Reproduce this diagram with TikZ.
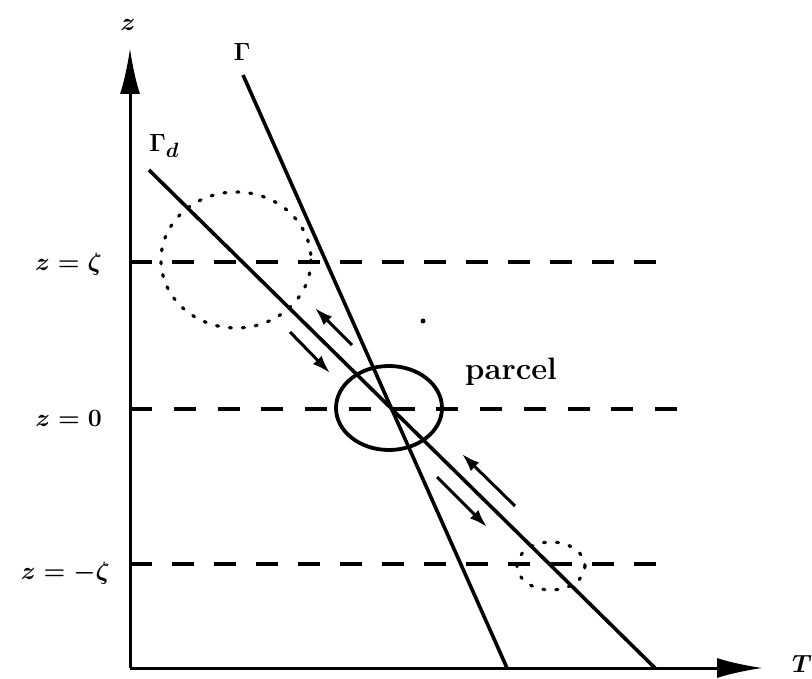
\documentclass[tikz,border=0pt]{standalone}
\usepackage{amsmath,amssymb}
\usepackage{tikz}
\usetikzlibrary{arrows.meta,positioning}

\begin{document}
\begin{tikzpicture}[
  x=1pt, y=-1pt,
  font=\fontsize{31}{36}\selectfont\boldmath,
  axis/.style={line width=3pt, -{Latex[length=46pt,width=20pt]}},
  gradient/.style={line width=3.6pt},
  level/.style={line width=3.4pt, dash pattern=on 22pt off 20pt},
  blob/.style={line width=3.2pt, line cap=round, dash pattern=on 2pt off 11pt},
  parcelbox/.style={line width=3.8pt},
  move/.style={line width=3pt, -{Latex[length=18pt,width=12pt]}},
  lbl/.style={inner sep=0pt}]
\useasboundingbox (0,0) rectangle (812,679);
% axes
\coordinate (O) at (130,668);
\coordinate (ztip) at (130,48);
\coordinate (Ttip) at (763,668);
\draw[axis] (O) -- (ztip);
\draw[axis] (O) -- (Ttip);
\node[lbl] (zlab) at (128,25) {$z$};
\node[lbl] (Tlab) at (802,664) {$T$};
% levels
\coordinate (zeta1) at (130,262); \coordinate (zeta2) at (658,262);
\coordinate (zero1) at (130,409); \coordinate (zero2) at (677,409);
\coordinate (mzeta1) at (130,564); \coordinate (mzeta2) at (658,564);
\draw[level] (zeta1) -- (zeta2);
\draw[level, dash pattern=on 22pt off 21.75pt] (zero1) -- (zero2);
\draw[level] (mzeta1) -- (mzeta2);
\node[lbl, anchor=east] (zetalab) at (102,264) {$z=\zeta$};
\node[lbl, anchor=east] (zerolab) at (102,418) {$z=0$};
\node[lbl, anchor=east] (mzetalab) at (110,573) {$z=-\zeta$};
% lapse-rate lines
\coordinate (G1) at (243,75); \coordinate (G2) at (507,668);
\coordinate (Gd1) at (149,170); \coordinate (Gd2) at (655,668);
\draw[gradient] (G1) -- (G2);
\draw[gradient] (Gd1) -- (Gd2);
\node[lbl] (Glab) at (242,52) {$\Gamma$};
\node[lbl] (Gdlab) at (164,146) {$\Gamma_d$};
% parcel and its displaced positions
\draw[parcelbox] (389,408) ellipse [x radius=53, y radius=42];
\draw[blob] (236,260) ellipse [x radius=75, y radius=68];
\draw[blob] (551,566) ellipse [x radius=34, y radius=24];
\node[lbl, anchor=west] (parcellab) at (465,372) {\bfseries parcel};
\fill (423,321) circle (2.5pt);
% motions
\coordinate (u1) at (352,345); \coordinate (u2) at (315,308);
\coordinate (d1) at (290,332); \coordinate (d2) at (330,373);
\coordinate (l1) at (515,506); \coordinate (l2) at (462,454);
\coordinate (r1) at (437,477); \coordinate (r2) at (487,527);
\draw[move] (u1) -- (u2);
\draw[move] (d1) -- (d2);
\draw[move] (l1) -- (l2);
\draw[move] (r1) -- (r2);
\end{tikzpicture}
\end{document}
